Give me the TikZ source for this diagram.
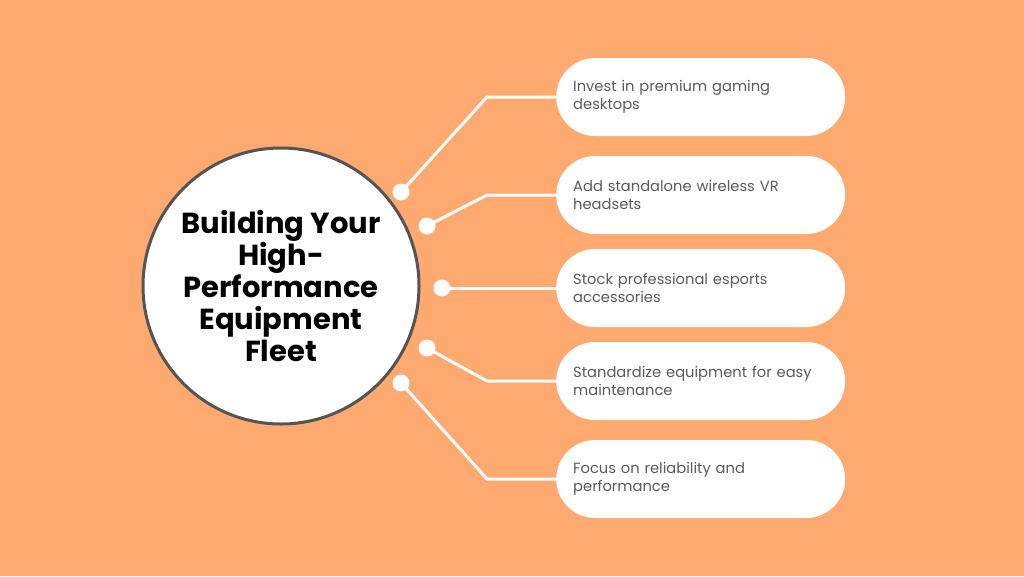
\documentclass[tikz,border=0pt]{standalone}
\usepackage{fontspec}
\setmainfont{Poppins}
\definecolor{bg}{HTML}{FDA970}
\definecolor{ring}{HTML}{545454}
\definecolor{itemtext}{HTML}{5A5A5A}
\begin{document}
\begin{tikzpicture}[x=1pt,y=-1pt,
  itembox/.style={draw=none,fill=white,rounded corners=39pt,minimum height=78pt,
    text width=255pt,inner xsep=17pt,inner ysep=0pt,align=left,anchor=west,
    font=\fontsize{14.7}{17.5}\selectfont,text=itemtext},
  dotnode/.style={circle,fill=white,minimum size=17pt,inner sep=0pt},
  link/.style={draw=white,line width=3pt}]
\fill[bg] (0,0) rectangle (1024,576);
\useasboundingbox (0,0) rectangle (1024,576);
\node[circle,draw=ring,line width=3pt,fill=white,minimum size=276pt,inner sep=0pt,
  align=center,font=\bfseries\fontsize{29}{32}\selectfont] (center) at (281,286)
  {Building Your\\High-\\Performance\\Equipment\\Fleet};
\node[itembox] (b1) at (556,97) {Invest in premium gaming\\desktops};
\node[itembox] (b2) at (556,195) {Add standalone wireless VR\\headsets};
\node[itembox] (b3) at (556,288) {Stock professional esports\\accessories};
\node[itembox] (b4) at (556,381) {Standardize equipment for easy\\maintenance};
\node[itembox] (b5) at (556,479) {Focus on reliability and\\performance};
\coordinate (e1) at (487,97);
\coordinate (e2) at (487,195);
\coordinate (e4) at (487,381);
\coordinate (e5) at (487,479);
\node[dotnode] (d1) at (401,192) {};
\node[dotnode] (d2) at (427,226) {};
\node[dotnode] (d3) at (442,288) {};
\node[dotnode] (d4) at (427,348) {};
\node[dotnode] (d5) at (401,383) {};
\draw[link] (d1.center) -- (e1) -- (b1.west);
\draw[link] (d2.center) -- (e2) -- (b2.west);
\draw[link] (d3.center) -- (b3.west);
\draw[link] (d4.center) -- (e4) -- (b4.west);
\draw[link] (d5.center) -- (e5) -- (b5.west);
\end{tikzpicture}
\end{document}
